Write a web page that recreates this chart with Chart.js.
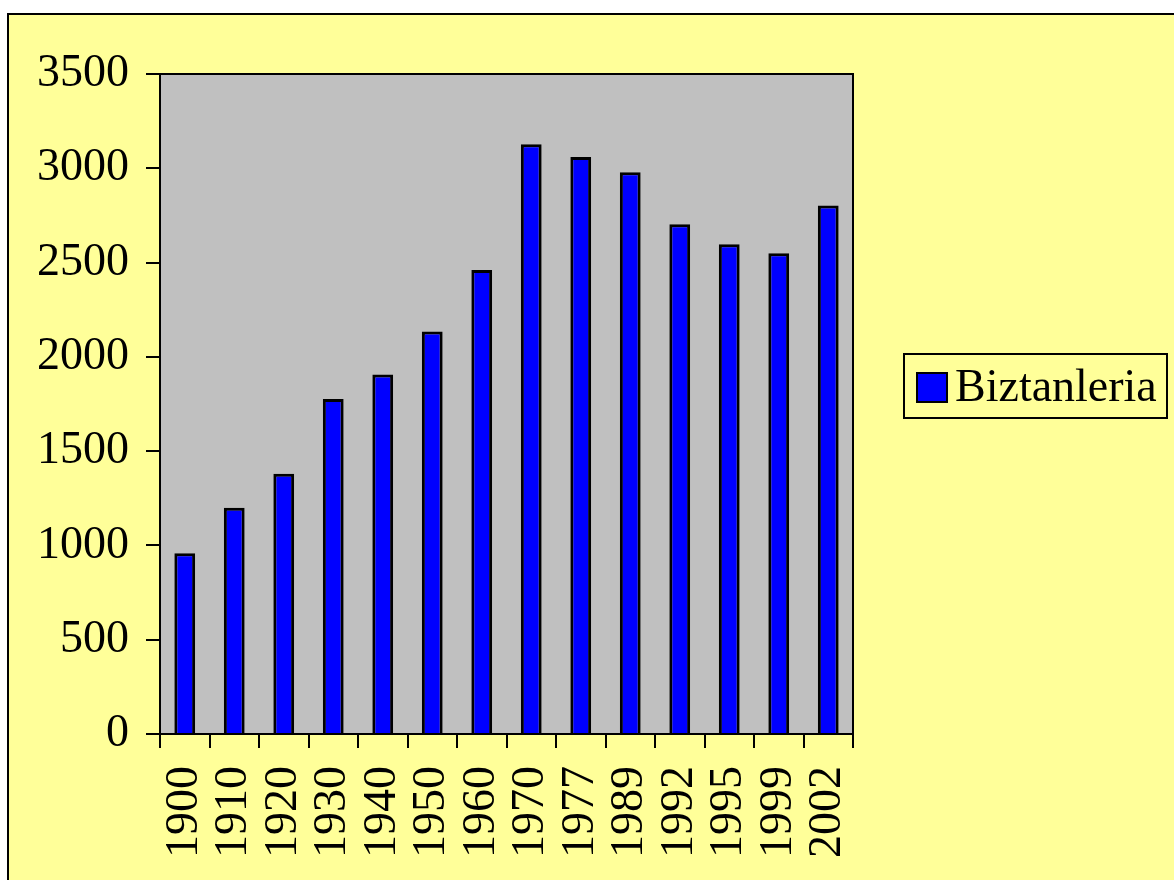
<!DOCTYPE html>
<html>
<head>
<meta charset="utf-8">
<script src="https://cdn.jsdelivr.net/npm/chart.js@4/dist/chart.umd.min.js"></script>
<style>
  html, body { margin: 0; padding: 0; background: #fff; overflow: hidden; }
  #frame { position: absolute; left: 7px; top: 13px; width: 1200px; height: 900px;
           border: 2px solid #000; background: #ffff99; }
  #wrap { position: absolute; left: 0; top: 0; width: 1174px; height: 880px; }
</style>
</head>
<body>
<div id="frame"></div>
<div id="wrap"><canvas id="barChart"></canvas></div>
<script>
const urteak = ['1900','1910','1920','1930','1940','1950','1960','1970','1977','1989','1992','1995','1999','2002'];
const biztanleria = [958, 1200, 1380, 1776, 1907, 2134, 2461, 3127, 3060, 2979, 2703, 2597, 2549, 2802];
const serieIzena = 'Biztanleria';

const letra = "'Liberation Serif', 'Times New Roman', serif";

// gris de fondo y marco del area del grafico
const marcoPlot = {
    id: 'marcoPlot',
    beforeDatasetsDraw(chart) {
        const {ctx, chartArea: a} = chart;
        ctx.save();
        ctx.fillStyle = '#c0c0c0';
        ctx.fillRect(a.left, a.top, a.right - a.left, a.bottom - a.top);
        ctx.restore();
    },
    afterDatasetsDraw(chart) {
        const {ctx, chartArea: a} = chart;
        ctx.save();
        ctx.strokeStyle = '#000';
        ctx.lineWidth = 2;
        ctx.strokeRect(a.left, a.top, a.right - a.left, a.bottom - a.top);
        ctx.restore();
    }
};

// leyenda con recuadro, a la derecha
const leyenda = {
    id: 'leyenda',
    afterDraw(chart) {
        const {ctx} = chart;
        const ds = chart.data.datasets[0];
        ctx.save();
        ctx.fillStyle = '#ffff99';
        ctx.fillRect(904, 354, 263, 64);
        ctx.strokeStyle = '#000';
        ctx.lineWidth = 2;
        ctx.strokeRect(904, 354, 263, 64);
        ctx.fillStyle = ds.backgroundColor;
        ctx.fillRect(917, 373, 30, 29);
        ctx.strokeRect(917, 373, 30, 29);
        ctx.fillStyle = '#000';
        ctx.font = '46px ' + letra;
        ctx.textBaseline = 'middle';
        ctx.fillText(ds.label, 955, 389);
        ctx.restore();
    }
};

const printChart = () => {
    const data = {
        labels: urteak,
        datasets: [{
            label: serieIzena,
            data: biztanleria,
            backgroundColor: '#0000ff',
            borderColor: '#000',
            borderWidth: 3,
            barPercentage: 0.42,
            categoryPercentage: 1
        }]
    };

    const options = {
        responsive: false,
        animation: false,
        layout: { padding: { left: 0, top: 74, right: 1174 - 853, bottom: 0 } },
        plugins: { legend: { display: false }, tooltip: { enabled: false } },
        scales: {
            x: {
                grid: { offset: true, drawOnChartArea: false, drawTicks: true, tickLength: 14, color: '#000', lineWidth: 2 },
                border: { display: true, color: '#000', width: 2 },
                ticks: { color: '#000', font: { family: letra, size: 46 }, maxRotation: 90, minRotation: 90, padding: 18, autoSkip: false },
                afterFit: (s) => { s.height = 880 - 734; }
            },
            y: {
                min: 0,
                max: 3500,
                grid: { drawOnChartArea: false, drawTicks: true, tickLength: 14, color: '#000', lineWidth: 2 },
                border: { display: true, color: '#000', width: 2 },
                ticks: { stepSize: 500, color: '#000', font: { family: letra, size: 46 }, padding: 17,
                         callback: (v) => String(v) },
                afterFit: (s) => { s.width = 160; }
            }
        }
    };

    new Chart('barChart', { type: 'bar', data, options, plugins: [marcoPlot, leyenda] });
};

const cv = document.getElementById('barChart');
cv.width = 1174;
cv.height = 880;
printChart();
</script>
</body>
</html>
